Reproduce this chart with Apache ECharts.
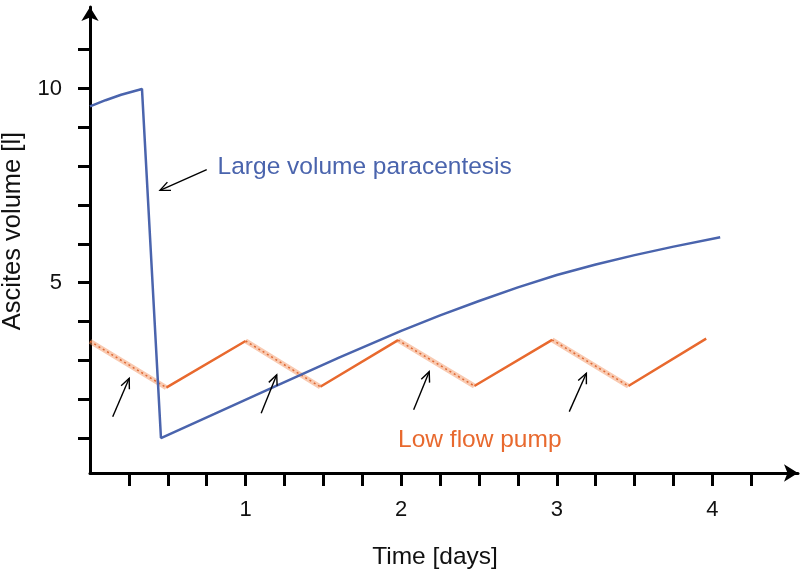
<!DOCTYPE html>
<html><head><meta charset="utf-8">
<script src="https://cdn.jsdelivr.net/npm/echarts@6/dist/echarts.min.js"></script>
<style>html,body{margin:0;padding:0;background:#fff}#c{width:800px;height:573px}</style>
</head><body><div id="c"></div>
<script>
// Large volume paracentesis (blue)
const lvpTime   = [0, 0.1, 0.2, 0.334, 0.456, 0.8, 1.2, 1.6, 2.0, 2.25, 2.5, 2.75, 3.0, 3.25, 3.5, 3.75, 4.05];
const lvpVolume = [9.54, 9.70, 9.84, 9.99, 1.0, 1.62, 2.35, 3.07, 3.76, 4.16, 4.53, 4.88, 5.20, 5.47, 5.71, 5.93, 6.17];
// Low flow pump (orange)
const pumpTime   = [0, 0.49, 1.0, 1.48, 1.98, 2.47, 2.97, 3.46, 3.96];
const pumpVolume = [3.49, 2.30, 3.50, 2.32, 3.52, 2.34, 3.53, 2.34, 3.56];
// axes
const xTickValues = [0.25, 0.5, 0.75, 1, 1.25, 1.5, 1.75, 2, 2.25, 2.5, 2.75, 3, 3.25, 3.5, 3.75, 4, 4.25];
const xLabelValues = [1, 2, 3, 4];
const yTickValues = [1, 2, 3, 4, 5, 6, 7, 8, 9, 10, 11];
const yLabelValues = [5, 10];
// annotation arrows (data coords): tail -> head
const arrowFrom = [[0.75, 7.91], [0.146, 1.55], [1.10, 1.64], [2.08, 1.73], [3.08, 1.68]];
const arrowTo   = [[0.45, 7.38], [0.252, 2.54], [1.20, 2.63], [2.18, 2.71], [3.19, 2.67]];
const noteTexts = ['Large volume paracentesis', 'Low flow pump'];
const noteAt = [[0.82, 7.98], [1.98, 0.95]];

const BLUE = '#4a64ad', ORANGE = '#e8692e';
const FONT = '"Liberation Sans", Arial, Helvetica, sans-serif';

const lvpData = lvpTime.map((t, i) => [t, lvpVolume[i]]);
const rising = [], falling = [];
for (let i = 0; i < pumpTime.length - 1; i++) {
  const a = [pumpTime[i], pumpVolume[i]], b = [pumpTime[i + 1], pumpVolume[i + 1]];
  const tgt = pumpVolume[i + 1] > pumpVolume[i] ? rising : falling;
  tgt.push(a, b, [null, null]);
}
const arrowData = arrowFrom.map((f, i) => [f[0], f[1], arrowTo[i][0], arrowTo[i][1]]);
const noteData = noteAt.map((p, i) => [p[0], p[1], i]);
const noteColors = [BLUE, ORANGE];

const chart = echarts.init(document.getElementById('c'));
chart.setOption({
  animation: false,
  grid: { left: 90, right: 2, top: 7, bottom: 100, containLabel: false, outerBoundsMode: 'none' },
  xAxis: {
    type: 'value', min: 0, max: 4.55,
    splitLine: { show: false },
    axisLine: { onZero: false, lineStyle: { color: '#000', width: 3 }, symbol: ['none', 'arrow'], symbolSize: [13, 14] },
    axisTick: { length: 13, lineStyle: { color: '#000', width: 3 }, customValues: xTickValues },
    axisLabel: { customValues: xLabelValues, margin: 26, fontSize: 22, color: '#111', fontFamily: FONT },
    name: 'Time [days]', nameLocation: 'middle', nameGap: 72,
    nameTextStyle: { fontSize: 24.5, color: '#111', fontFamily: FONT, padding: [0, 18, 0, 0] }
  },
  yAxis: {
    type: 'value', min: 0.1, max: 12.1,
    splitLine: { show: false },
    axisLine: { onZero: false, lineStyle: { color: '#000', width: 3 }, symbol: ['none', 'arrow'], symbolSize: [13, 14] },
    axisTick: { length: 12, lineStyle: { color: '#000', width: 3 }, customValues: yTickValues },
    axisLabel: { customValues: yLabelValues, margin: 28, fontSize: 22, color: '#111', fontFamily: FONT },
    name: 'Ascites volume [l]', nameLocation: 'middle', nameGap: 64,
    nameTextStyle: { fontSize: 25.5, color: '#111', fontFamily: FONT, padding: [0, 0, 0, 18] }
  },
  series: [
    { type: 'line', data: lvpData, showSymbol: false, lineStyle: { color: BLUE, width: 2.5 }, z: 3 },
    { type: 'line', data: rising, showSymbol: false, connectNulls: false, lineStyle: { color: ORANGE, width: 2.5 }, z: 2 },
    { type: 'line', data: falling, showSymbol: false, connectNulls: false, lineStyle: { color: 'rgba(243,150,100,0.5)', width: 5 }, z: 2 },
    { type: 'line', data: falling, showSymbol: false, connectNulls: false, lineStyle: { color: '#e06a35', width: 1.5, type: [2, 3] }, z: 2 },
    {
      type: 'custom', data: arrowData, clip: false, z: 5,
      encode: { x: [0, 2], y: [1, 3] },
      renderItem: function (params, api) {
        const p1 = api.coord([api.value(0), api.value(1)]);
        const p2 = api.coord([api.value(2), api.value(3)]);
        const ang = Math.atan2(p2[1] - p1[1], p2[0] - p1[0]);
        const L = 11, A = 0.42;
        const h1 = [p2[0] - L * Math.cos(ang - A), p2[1] - L * Math.sin(ang - A)];
        const h2 = [p2[0] - L * Math.cos(ang + A), p2[1] - L * Math.sin(ang + A)];
        return {
          type: 'group', children: [
            { type: 'line', shape: { x1: p1[0], y1: p1[1], x2: p2[0], y2: p2[1] }, style: { stroke: '#000', lineWidth: 1.4 } },
            { type: 'polyline', shape: { points: [h1, p2, h2] }, style: { stroke: '#000', lineWidth: 1.4, fill: 'none' } }
          ]
        };
      }
    },
    {
      type: 'custom', data: noteData, clip: false, z: 5,
      encode: { x: 0, y: 1 },
      renderItem: function (params, api) {
        const p = api.coord([api.value(0), api.value(1)]);
        const idx = api.value(2);
        return {
          type: 'text', x: p[0], y: p[1],
          style: { text: noteTexts[idx], fill: noteColors[idx], fontSize: 24.5, fontFamily: FONT, align: 'left', verticalAlign: 'middle' }
        };
      }
    }
  ]
});
</script></body></html>
